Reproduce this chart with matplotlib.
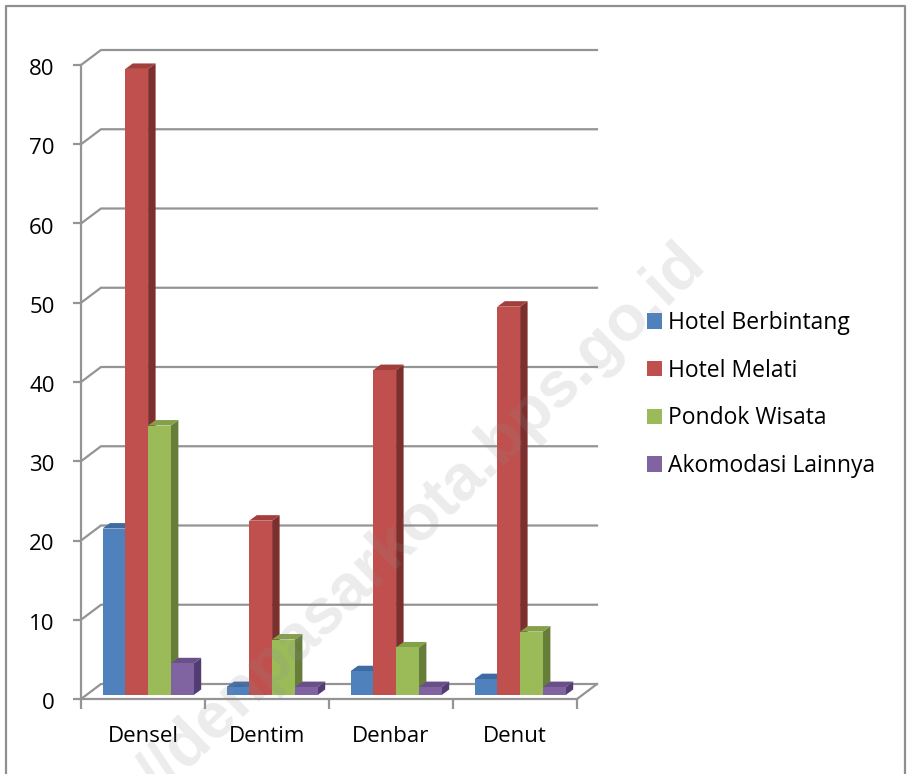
#recreate the 3d looking column chart with plain matplotlib polygons
import numpy as np
import matplotlib
matplotlib.use('Agg')
import matplotlib.pyplot as plt
from matplotlib.patches import Patch
from matplotlib.lines import Line2D
from matplotlib.transforms import ScaledTranslation

plt.rcParams['font.family'] = ['Open Sans', 'DejaVu Sans']

categories = ['Densel', 'Dentim', 'Denbar', 'Denut']
series_names = ['Hotel Berbintang', 'Hotel Melati', 'Pondok Wisata', 'Akomodasi Lainnya']
hotel_berbintang = [21, 1, 3, 2]
hotel_melati = [79, 22, 41, 49]
pondok_wisata = [34, 7, 6, 8]
akomodasi_lainnya = [4, 1, 1, 1]
y_ticks = [0, 10, 20, 30, 40, 50, 60, 70, 80]

front_cols = ['#4f81bd', '#c0504d', '#9bbb59', '#8064a2']
side_cols = ['#385d8a', '#7d2f2d', '#667e3a', '#523c72']
top_cols = ['#3f6ba3', '#a23f3c', '#84a048', '#6a5089']
grid_col = '#949494'

W, H = 910, 774
fig = plt.figure(figsize=(W/100, H/100), dpi=100)
#plot area in pixels: x 81..577, y 699..65
ax = fig.add_axes([81/W, 1-699/H, (577-81)/W, (699-65)/H])
ax.set_zorder(2)
ax.set_xlim(0, len(categories))
ax.set_ylim(0, 80)

px = len(categories)/(577-81) #one pixel in x data units
py = 80/(699-65) #one pixel in y data units

#outer frame, no bottom edge in the reference
frame_x = [6/W, 6/W, 905/W, 905/W]
frame_y = [0, 1-6/H, 1-6/H, 0]
fig.add_artist(Line2D(frame_x, frame_y, color='#8f8f8f', lw=1.6))

#watermark sits faintly over the bars
fig.text(708/W, 1-268/H, '//denpasarkota.bps.go.id', rotation=44, color='#8c8c8c', alpha=0.17,
	fontsize=46.5, fontweight='bold', family='Liberation Sans', ha='right', va='baseline',
	rotation_mode='anchor', zorder=5)

ax.patch.set_visible(False)
for s in ['top', 'right']:
	ax.spines[s].set_visible(False)
for s in ['left', 'bottom']:
	ax.spines[s].set_color(grid_col)
	ax.spines[s].set_linewidth(1.6)

#back wall gridlines and the slanted bits down to the axis
wx = 20*px
wy = 15*py
for v in y_ticks:
	ax.plot([0, wx, len(categories)+wx], [v, v+wy, v+wy], color=grid_col, lw=1.6, clip_on=False, zorder=1)
ax.plot([len(categories), len(categories)+wx], [0, wy], color=grid_col, lw=1.6, clip_on=False, zorder=1)

#bars
bar_w = 22.8*px
start = 21.5*px
dx = 7.5*px
dy = 5.5*py
base = 4*py
all_series = [hotel_berbintang, hotel_melati, pondok_wisata, akomodasi_lainnya]
for c in range(len(categories)):
	for i, vals in enumerate(all_series):
		x0 = c + start + i*bar_w
		x1 = x0 + bar_w
		y1 = base + vals[c]
		z = 3 + c + i*0.1
		ax.fill([x1, x1+dx, x1+dx, x1], [base, base+dy, y1+dy, y1], color=side_cols[i], lw=0, clip_on=False, zorder=z)
		ax.fill([x0, x0+dx, x1+dx, x1], [y1, y1+dy, y1+dy, y1], color=top_cols[i], lw=0, clip_on=False, zorder=z)
		ax.fill([x0, x1, x1, x0], [base, base, y1, y1], color=front_cols[i], lw=0, clip_on=False, zorder=z)

ax.set_yticks(y_ticks)
ax.set_xticks(np.arange(len(categories)+1))
ax.set_xticklabels([])
ax.set_xticks(np.arange(len(categories))+0.5, labels=categories, minor=True)
ax.tick_params(axis='y', length=6, width=1.6, color=grid_col, labelsize=16, pad=13, labelcolor='black')
ax.tick_params(axis='x', which='major', length=7, width=1.6, color=grid_col, direction='out')
ax.tick_params(axis='x', which='minor', length=0, labelsize=16, pad=19.5, labelcolor='black')
#y labels sit a little below their ticks
for lab in ax.get_yticklabels():
	lab.set_transform(lab.get_transform() + ScaledTranslation(0, -2/100, fig.dpi_scale_trans))

handles = [Patch(facecolor=front_cols[i], edgecolor='none', label=series_names[i]) for i in range(len(series_names))]
ax.legend(handles=handles, loc='center left', bbox_to_anchor=(626/W, 1-394.5/H), bbox_transform=fig.transFigure,
	frameon=False, fontsize=16.5, handlelength=0.65, handleheight=0.65, handletextpad=0.27, labelspacing=1.03)

fig.savefig('out.png', dpi=100)
